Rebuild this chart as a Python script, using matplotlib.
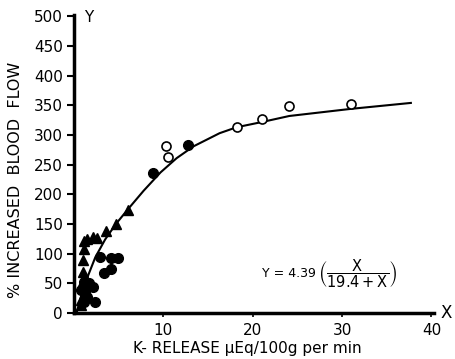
import numpy as np
import matplotlib.pyplot as plt

# K release (x) vs % increased blood flow (y)
tri_x = [0.8, 1.0, 1.0, 1.15, 1.15, 1.5, 2.1, 2.6, 3.6, 4.7, 6.1, 1.15, 0.8]
tri_y = [22, 69, 89, 108, 122, 125, 128, 126, 139, 150, 173, 27, 13]

dot_x = [2.9, 4.1, 4.9, 4.1, 3.4, 2.4, 1.15, 1.7, 2.1, 1.0, 1.3, 1.5, 1.15, 0.8, 8.9, 12.8]
dot_y = [94, 93, 93, 75, 67, 18, 53, 50, 44, 44, 36, 27, 19, 39, 236, 283]

open_x = [10.3, 10.5, 18.2, 21.1, 24.1, 31.0]
open_y = [282, 263, 313, 327, 348, 352]

# fitted curve, points
curve_x = [0.3, 0.8, 1.3, 2.4, 3.5, 4.7, 6.0, 7.8, 9.7, 11.5, 13.4, 16.3, 18.2, 21.1, 24.1, 31.0, 37.7]
curve_y = [0, 28, 52, 94, 124, 150, 174, 206, 237, 261, 281, 303, 313, 322, 332, 344, 354]

xticks = [10, 20, 30, 40]
yticks = list(range(0, 501, 50))

fig = plt.figure(figsize=(4.56, 3.59), dpi=100)
ax = fig.add_axes([0.162, 0.128, 0.79, 0.83])

ax.plot(curve_x, curve_y, color='black', lw=1.5, zorder=2)
ax.plot(tri_x, tri_y, '^', color='black', ms=6.5, zorder=3)
ax.plot(dot_x, dot_y, 'o', color='black', ms=7, zorder=3)
ax.plot(open_x, open_y, 'o', mfc='white', mec='black', mew=1.2, ms=6.5, zorder=3)

ax.set_xlim(0, 40.3)
ax.set_ylim(0, 502)
for s in ['top', 'right']:
    ax.spines[s].set_visible(False)
for s in ['left', 'bottom']:
    ax.spines[s].set_linewidth(2.5)

ax.set_xticks(xticks)
ax.set_yticks(yticks)
ax.set_xticklabels([str(t) for t in xticks], fontsize=11)
ax.set_yticklabels([str(t) for t in yticks], fontsize=11)
ax.tick_params(axis='y', direction='out', length=5, width=1.5, pad=3)
ax.tick_params(axis='x', direction='out', length=3, width=1.2, pad=4)

# equation of the fitted line
ax.text(21.1, 67, 'Y = 4.39', fontsize=9, va='center', ha='left')
ax.text(27.3, 67, r'$\left(\dfrac{\mathrm{X}}{\mathrm{19.4 + X}}\right)$',
        fontsize=10.5, va='center', ha='left')

fig.text(0.185, 0.952, 'Y', fontsize=11, ha='left', va='center')
fig.text(0.978, 0.128, 'X', fontsize=12, ha='center', va='center')
fig.text(0.035, 0.5, '% INCREASED  BLOOD  FLOW', rotation=90, fontsize=11.5,
         ha='center', va='center')
fig.text(0.542, 0.03, 'K- RELEASE μEq/100g per min', fontsize=11,
         ha='center', va='center')

fig.savefig('out.png', dpi=100)
